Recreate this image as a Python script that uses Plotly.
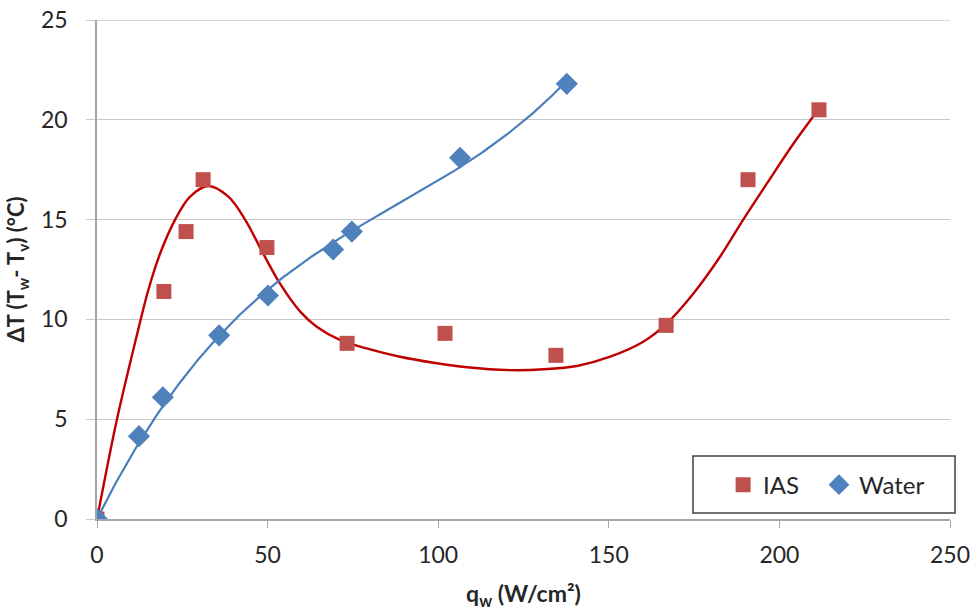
import numpy as np
import plotly.graph_objects as go

# Data
ias_q = [0, 19.6, 26.1, 31.1, 49.8, 73.3, 102.0, 134.5, 166.8, 190.8, 211.6]
ias_dt = [0, 11.4, 14.4, 17.0, 13.6, 8.8, 9.3, 8.2, 9.7, 17.0, 20.5]

water_q = [0, 12.3, 19.3, 35.8, 50.1, 69.2, 74.7, 106.4, 137.7]
water_dt = [0, 4.15, 6.1, 9.2, 11.2, 13.5, 14.4, 18.1, 21.8]

# IAS trend line
ias_trend_q = [0, 2.8, 5.8, 9.2, 12.6, 15.0, 18.5, 22.9, 27.3, 32.6, 38.5, 43.4,
               48.7, 53.6, 59.5, 64.4, 71.2, 79.0, 88.8, 98.6, 108.4, 121.0,
               131.0, 141.0, 150.4, 160.1, 167.0, 174.8, 182.6, 189.4, 196.3,
               204.1, 211.4]
ias_trend_dt = [0, 2.45, 4.96, 7.46, 9.85, 11.45, 13.3, 15.0, 16.15, 16.68, 16.15, 15.0,
                13.3, 11.8, 10.4, 9.63, 8.97, 8.55, 8.13, 7.83, 7.6, 7.46,
                7.5, 7.68, 8.13, 8.88, 9.8, 11.3, 13.14, 15.0, 16.8,
                18.8, 20.5]

x_ticks = [0, 50, 100, 150, 200, 250]
y_ticks = [0, 5, 10, 15, 20, 25]

water_order = 3


def trend(xs, ys, order):
    """Polynomial least-squares trend line through the origin (like an Excel trendline)."""
    xs = np.asarray(xs, float)
    ys = np.asarray(ys, float)
    A = np.vstack([xs ** k for k in range(1, order + 1)]).T
    coef, *_ = np.linalg.lstsq(A, ys, rcond=None)
    xx = np.linspace(xs.min(), xs.max(), 400)
    yy = sum(c * xx ** (k + 1) for k, c in enumerate(coef))
    return xx, yy


wat_fx, wat_fy = trend(water_q, water_dt, water_order)

font_family = "Lato, 'Open Sans', sans-serif"
grid_color = "#c8c8c8"

fig = go.Figure()
fig.add_trace(go.Scatter(x=ias_trend_q, y=ias_trend_dt, mode="lines",
                         line=dict(color="#C00000", width=2.4, shape="spline", smoothing=1.0),
                         showlegend=False, hoverinfo="skip"))
fig.add_trace(go.Scatter(x=wat_fx, y=wat_fy, mode="lines",
                         line=dict(color="#4A7EBB", width=2.2), showlegend=False, hoverinfo="skip"))
fig.add_trace(go.Scatter(x=ias_q, y=ias_dt, mode="markers", name="IAS", legend="legend",
                         marker=dict(symbol="square", size=15, color="#C0504D")))
fig.add_trace(go.Scatter(x=water_q, y=water_dt, mode="markers", name="Water", legend="legend2",
                         marker=dict(symbol="diamond", size=17, color="#4F81BD")))

# top gridline (plotly omits the grid line at the edge of the range)
fig.add_shape(type="line", xref="paper", yref="y", x0=-0.0105, x1=1,
              y0=y_ticks[-1], y1=y_ticks[-1], line=dict(color=grid_color, width=1.3), layer="below")

# legend frame
fig.add_shape(type="rect", xref="paper", yref="paper",
              x0=0.6987, x1=1.0059, y0=0.012, y1=0.1263,
              line=dict(color="#404040", width=1.5), fillcolor="white", layer="above")

legend_common = dict(orientation="h", xanchor="left", y=0.068, yanchor="middle",
                     borderwidth=0, bgcolor="rgba(0,0,0,0)", font=dict(size=24), itemwidth=30)

fig.update_layout(
    width=974, height=610,
    margin=dict(l=97, r=24, t=20, b=91),
    paper_bgcolor="white", plot_bgcolor="white",
    font=dict(family=font_family, size=23, color="#262626"),
    legend=dict(x=0.734, **legend_common),
    legend2=dict(x=0.8464, **legend_common),
    xaxis=dict(
        range=[0, 250], tickvals=x_ticks, showgrid=False, zeroline=False,
        showline=True, linecolor="#a6a6a6", linewidth=1.5, automargin=False,
        ticks="outside", ticklen=7, tickcolor="#a6a6a6", ticklabelstandoff=8,
        title=dict(text="<b>q<sub>w</sub> (W/cm²)</b>", font=dict(size=23), standoff=20),
    ),
    yaxis=dict(
        range=[0, 25], tickvals=y_ticks, showgrid=True, gridcolor=grid_color, gridwidth=1.3,
        zeroline=False, showline=True, linecolor="#a6a6a6", linewidth=1.5, automargin=False,
        ticks="outside", ticklen=9, tickcolor=grid_color, ticklabelstandoff=14,
        title=dict(text="<b>ΔT (T<sub>w</sub>- T<sub>v</sub>) (°C)</b>", font=dict(size=22), standoff=10),
    ),
)

fig.write_html("out.html", config={"displayModeBar": False},
               post_script="document.body.style.margin='0';")
